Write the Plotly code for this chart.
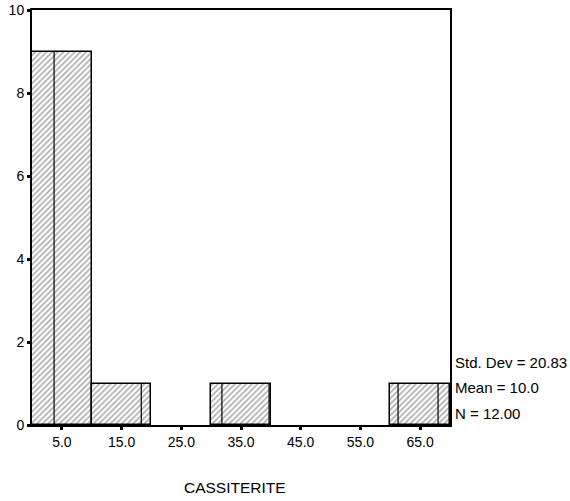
import plotly.graph_objects as go

# Data
bin_centers = [5.0, 15.0, 35.0, 65.0]
counts = [9, 1, 1, 1]
bin_width = 10
x_ticks = [5.0, 15.0, 25.0, 35.0, 45.0, 55.0, 65.0]
x_tick_labels = ["5.0", "15.0", "25.0", "35.0", "45.0", "55.0", "65.0"]
y_ticks = [0, 2, 4, 6, 8, 10]
stats = ["Std. Dev = 20.83", "Mean = 10.0", "N = 12.00"]
x_title = "CASSITERITE"
# inner divider lines drawn inside each bar (bar index, x position)
dividers = [(0, 3.7), (1, 18.3), (2, 31.8), (2, 39.7), (3, 61.3), (3, 68.0)]

FONT = "Liberation Sans, Arial, sans-serif"

fig = go.Figure()
fig.add_trace(go.Bar(
    x=bin_centers, y=counts, width=bin_width,
    marker=dict(color="white",
                line=dict(color="black", width=1.5),
                pattern=dict(shape="/", size=4, solidity=0.4,
                             fgcolor="#5a5a5a", bgcolor="white")),
    showlegend=False,
))

for i, xv in dividers:
    fig.add_shape(type="line", xref="x", yref="y", x0=xv, x1=xv, y0=0, y1=counts[i],
                  line=dict(color="black", width=1.2))

fig.update_xaxes(range=[0, 70], tickvals=x_ticks, ticktext=x_tick_labels,
                 showline=True, linecolor="black", linewidth=2, mirror=True,
                 ticks="outside", ticklen=3, tickwidth=3, tickcolor="black",
                 showgrid=False, zeroline=False, automargin=False,
                 tickfont=dict(family=FONT, size=14, color="black"))
fig.update_yaxes(range=[0, 10], tickvals=y_ticks,
                 showline=True, linecolor="black", linewidth=2, mirror=True,
                 ticks="outside", ticklen=3, tickwidth=3, tickcolor="black",
                 showgrid=False, zeroline=False, automargin=False,
                 tickfont=dict(family=FONT, size=14, color="black"))

fig.add_annotation(text=x_title, xref="paper", yref="paper", x=0.5, xshift=-6,
                   y=0, yshift=-62, xanchor="center", yanchor="middle", showarrow=False,
                   font=dict(family=FONT, size=15.5, color="black"))

for k, s in enumerate(stats):
    fig.add_annotation(text=s, xref="paper", yref="paper", x=1.0, xshift=3,
                       y=0, yshift=12 + 25.5 * (len(stats) - 1 - k),
                       xanchor="left", yanchor="middle", showarrow=False,
                       font=dict(family=FONT, size=15, color="black"))

fig.update_layout(width=570, height=501, margin=dict(l=32, r=120, t=10, b=76),
                  plot_bgcolor="white", paper_bgcolor="white", bargap=0)
fig.write_html("out.html")
